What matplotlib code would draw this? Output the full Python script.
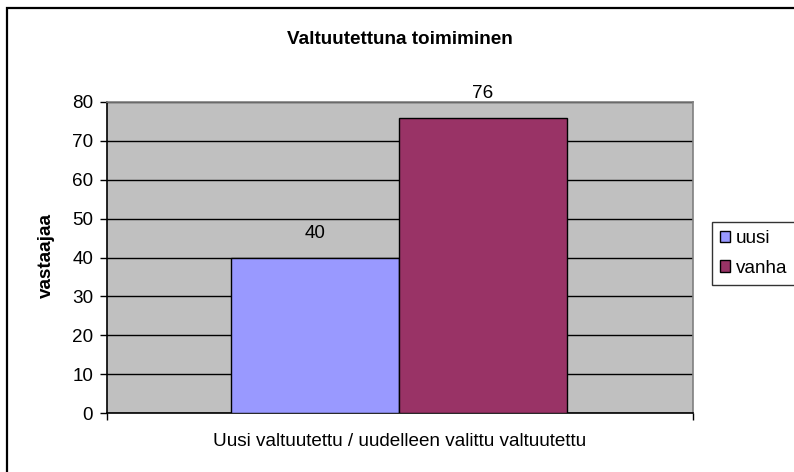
import matplotlib.pyplot as plt
from matplotlib.patches import Rectangle, Patch

plt.rcParams['font.family'] = ['Liberation Sans', 'DejaVu Sans']

# data
series = ["uusi", "vanha"]
values = [40, 76]
colors = ["#9999FF", "#993366"]
category = "Uusi valtuutettu / uudelleen valittu valtuutettu"

FS = 13.6

fig = plt.figure(figsize=(7.94, 4.72), dpi=100)
ax = fig.add_axes([107/794, 1 - 413/472, 586/794, 311/472])

# outer chart frame (cut off on right/bottom in the reference)
fig.patches.append(Rectangle((7/794, -0.05), 1.2, 1 - 8/472 + 0.05,
                             transform=fig.transFigure, fill=False,
                             edgecolor="black", linewidth=1.6, clip_on=False))

ax.set_facecolor("#C0C0C0")
w = 168 / 293
off = 0.003
xs = [-w / 2, w / 2]
ax.bar(xs, values, width=w, color=colors, edgecolor="black",
       linewidth=1.0, zorder=3)
for x, v in zip(xs, values):
    ax.annotate(str(v), (x, v), xytext=(0, 17), textcoords="offset points",
                ha="center", va="center", fontsize=FS, annotation_clip=False)

ax.set_xlim(-1 + off, 1 + off)
ax.set_ylim(0, 80)
ax.set_yticks(range(0, 81, 10))
ax.yaxis.grid(True, color="black", linewidth=1.0, zorder=1)
ax.set_axisbelow(True)
ax.set_xticks([-1 + off, 1 + off])
ax.set_xticklabels(["", ""])
ax.tick_params(axis="x", length=5, width=1, direction="out")
ax.tick_params(axis="y", length=5, width=1, direction="out", labelsize=FS, pad=5)

for s in ["top", "right"]:
    ax.spines[s].set_color("#808080")
    ax.spines[s].set_linewidth(1.2)
for s in ["left", "bottom"]:
    ax.spines[s].set_color("black")
    ax.spines[s].set_linewidth(1.2)

fig.text(400/794, 1 - 442/472, category, ha="center", va="center", fontsize=FS)
fig.text(46/794, 1 - 256/472, "vastaajaa", ha="center", va="center",
         rotation=90, fontsize=FS, fontweight="bold")
fig.text(400/794, 1 - 40/472, "Valtuutettuna toimiminen", ha="center",
         va="center", fontsize=FS, fontweight="bold")

handles = [Patch(facecolor=c, edgecolor="black", label=s) for s, c in zip(series, colors)]
leg = fig.legend(handles=handles, loc="upper left", bbox_to_anchor=(712/794, 1 - 222/472),
                 frameon=True, fancybox=False, fontsize=FS, handlelength=0.55,
                 handleheight=0.55, handletextpad=0.3, borderpad=0.42,
                 labelspacing=0.68, borderaxespad=0)
leg.get_frame().set_edgecolor("black")
leg.get_frame().set_linewidth(1.0)

fig.savefig("out.png", dpi=100)
